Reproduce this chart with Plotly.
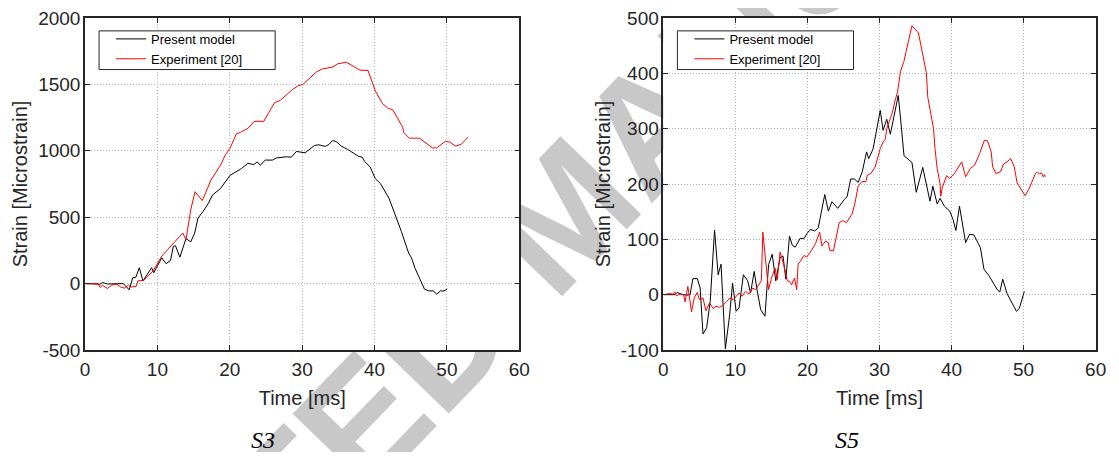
import plotly.graph_objects as go

# ---------------- data ----------------
s3_model_t = [0, 2.06, 2.4, 3.1, 5.3, 6.1, 6.6, 7.0, 7.5, 8.0, 9.2, 9.5, 10.6, 11.2, 11.8, 12.2, 12.5, 13.1,
              13.95, 14.6, 15.15, 15.6, 16.3, 17.05, 17.6, 18.7, 20.05, 21.6, 22.5, 23.3, 23.8, 24.2, 24.9,
              25.9, 26.4, 27.8, 28.5, 29.2, 30.4, 30.8, 31.7, 32.3, 33.2, 33.7, 34.2, 34.7, 35.4, 36.3, 37.8,
              38.3, 38.6, 39.4, 40.1, 40.8, 41.3, 42.0, 43.7, 44.7, 45.1, 45.6, 46.9, 47.5, 48.1, 48.6, 49.1,
              49.6, 50.05]
s3_model_v = [0, -5, 8, -3, 0, -47, 45, 45, 120, 20, 120, 82, 194, 150, 174, 281, 285, 199,
              339, 314, 381, 493, 543, 605, 667, 715, 816, 866, 906, 896, 916, 892, 930,
              930, 946, 955, 952, 995, 985, 1003, 1040, 1045, 1033, 1048, 1077, 1070, 1035, 1010, 958,
              952, 921, 878, 791, 754, 704, 642, 393, 231, 194, 115, -42, -55, -55, -80, -55,
              -55, -42]

s3_exp_t = [0, 1.8, 2.1, 2.4, 3.1, 3.7, 4.4, 4.9, 5.5, 6.0, 6.3, 7.05, 7.3, 8.15, 9.4, 10.6, 13.5, 13.95,
            14.6, 15.2, 16.2, 16.95, 17.4, 18.7, 19.4, 20.0, 20.9, 21.5, 22.5, 23.4, 24.7, 25.4, 26.2,
            27.0, 28.7, 29.4, 30.1, 32.0, 32.8, 34.2, 34.9, 36.1, 37.0, 38.0, 39.1, 40.1, 41.1, 41.9,
            42.5, 43.9, 44.0, 44.8, 46.2, 48.0, 48.6, 49.8, 50.4, 51.2, 52.0, 52.9]
s3_exp_v = [0, 0, -30, -12, -37, -10, -5, -25, -35, -10, -25, -22, 20, 25, 95, 207, 381, 331,
            555, 692, 625, 716, 780, 891, 970, 1015, 1127, 1140, 1169, 1222, 1222, 1289, 1363,
            1381, 1463, 1488, 1500, 1595, 1617, 1630, 1655, 1667, 1637, 1607, 1605, 1451, 1356, 1318,
            1310, 1177, 1140, 1095, 1095, 1022, 1022, 1072, 1065, 1035, 1050, 1102]

s5_model_t = [0, 1.6, 1.9, 2.5, 3.2, 3.7, 4.1, 4.7, 5.1, 5.5, 6.0, 6.5, 7.1, 7.6, 8.0, 8.6, 9.2, 9.6,
              10.1, 10.5, 11.1, 11.7, 12.1, 12.6, 13.0, 13.5, 14.1, 14.6, 15.1, 15.6, 16.2, 16.6, 17.0,
              17.5, 17.9, 18.3, 19.0, 19.5, 19.9, 20.4, 21.0, 21.5, 22.4, 22.9, 23.4, 24.2, 25.1, 25.5,
              26.0, 26.5, 27.05, 27.6, 28.2, 28.5, 29.1, 30.1, 30.5, 31.0, 31.5, 32.6, 32.9, 33.4, 34.5,
              35.1, 36.0, 37.0, 37.4, 38.0, 38.4, 39.0, 39.75, 40.2, 40.6, 41.1, 41.95, 42.5, 43.1, 44.0,
              44.5, 45.2, 46.4, 46.7, 47.1, 47.7, 49.0, 49.4, 50.1]
s5_model_v = [0, 0, 4, 1, -1, 0, 29, 29, 12, -71, -60, -12, 117, 36, 55, -98, -36, 21,
              -30, -24, 36, 25, 3, 42, 9, -27, -39, 54, 73, 25, 67, 70, 28,
              106, 89, 86, 102, 101, 110, 118, 115, 121, 181, 151, 168, 156, 172, 177,
              209, 209, 203, 222, 258, 246, 263, 333, 297, 317, 290, 360, 321, 251, 239,
              185, 230, 169, 196, 164, 174, 160, 151, 136, 116, 160, 94, 109, 108, 85,
              46, 34, 8, 5, 28, 2, -30, -25, 6]

s5_exp_t = [0, 0.5, 0.9, 1.3, 1.6, 1.8, 2.3, 2.8, 3.0, 3.4, 3.9, 4.3, 4.7, 5.0, 5.5, 5.9, 6.4, 6.9,
            7.3, 7.8, 8.3, 8.8, 9.2, 9.7, 10.1, 10.5, 10.9, 11.4, 11.9, 12.4, 12.8, 13.3, 13.6, 13.8,
            14.2, 14.6, 15.0, 15.5, 15.8, 16.2, 16.7, 17.2, 17.5, 17.8, 18.2, 18.5, 18.7, 19.0, 19.5,
            19.9, 20.4, 21.1, 21.7, 22.0, 22.5, 22.9, 23.1, 23.6, 24.4, 24.9, 25.4, 26.0, 26.2, 26.6,
            27.05, 27.6, 28.1, 28.3, 28.8, 29.4, 29.7, 30.1, 30.5, 30.8, 31.0, 31.4, 31.8, 32.1, 32.5,
            32.9, 33.4, 33.7, 34.2, 34.5, 35.4, 35.9, 36.5, 36.7, 37.1, 37.5, 37.7, 38.0, 38.4, 38.5,
            38.7, 39.3, 39.75, 40.4, 41.4, 41.95, 42.6, 43.2, 43.9, 44.55, 45.0, 45.5, 45.7, 46.15,
            46.8, 47.2, 47.7, 48.2, 48.7, 49.1, 50.2, 50.7, 51.2, 51.6, 51.9, 52.2, 52.5, 52.7, 52.9, 53.0]
s5_exp_v = [0, 1, 2, 1, 5, -2, 1, 0, -13, 15, -31, -5, 4, -9, -6, -29, -15, -25,
            -21, -23, -19, -12, -6, -9, -3, 3, -3, 6, 1, 12, 9, 18, 25, 113,
            65, 9, 30, 48, 27, 77, 54, 25, 24, 18, 30, 9, 55, 60, 71,
            68, 77, 92, 113, 88, 97, 94, 80, 79, 130, 134, 130, 142, 146, 166,
            197, 205, 204, 216, 219, 231, 246, 264, 276, 281, 300, 317, 330, 348, 366,
            403, 422, 440, 470, 486, 473, 443, 401, 357, 330, 300, 264, 228, 201, 178,
            193, 215, 210, 219, 240, 213, 228, 234, 255, 279, 278, 258, 231, 219,
            222, 236, 240, 246, 231, 202, 179, 190, 205, 218, 222, 218, 220, 213, 217, 213]

x_tickvals = [0, 10, 20, 30, 40, 50, 60]
x_ticktext = ["0", "10", "20", "30", "40", "50", "60"]
s3_y_tickvals = [-500, 0, 500, 1000, 1500, 2000]
s3_y_ticktext = ["-500", "0", "500", "1000", "1500", "2000"]
s5_y_tickvals = [-100, 0, 100, 200, 300, 400, 500]
s5_y_ticktext = ["-100", "0", "100", "200", "300", "400", "500"]

series_names = ["Present model", "Experiment [20]"]
panel_labels = ["S3", "S5"]
x_title = "Time [ms]"
y_title = "Strain [Microstrain]"
watermark = "ACCEPTED MANUSCRIPT"

# ---------------- geometry (target picture pixels -> figure fractions) ----------------
X0, XS = 13.0, 0.985          # observed horizontal mapping of figure px to picture px
OFF = 8                       # page body margin
W, H = 1119 - OFF, 460 - 2 * OFF
PLOT_TOP, PLOT_BOT = 15, 350  # picture pixels
MT = PLOT_TOP - OFF
MB = H - (PLOT_BOT - OFF)
PH = PLOT_BOT - PLOT_TOP


def fx(p):
    return ((p - X0) / XS) / W


def fy(p):
    return (PLOT_BOT - p) / PH


fig = go.Figure()
fig.add_trace(go.Scatter(x=s3_model_t, y=s3_model_v, mode="lines", name=series_names[0],
                         line=dict(color="black", width=1), xaxis="x", yaxis="y", legend="legend"))
fig.add_trace(go.Scatter(x=s3_exp_t, y=s3_exp_v, mode="lines", name=series_names[1],
                         line=dict(color="#ff0000", width=1), xaxis="x", yaxis="y", legend="legend"))
fig.add_trace(go.Scatter(x=s5_model_t, y=s5_model_v, mode="lines", name=series_names[0],
                         line=dict(color="black", width=1), xaxis="x2", yaxis="y2", legend="legend2"))
fig.add_trace(go.Scatter(x=s5_exp_t, y=s5_exp_v, mode="lines", name=series_names[1],
                         line=dict(color="#ff0000", width=1), xaxis="x2", yaxis="y2", legend="legend2"))

font_main = "Liberation Sans, Arial, sans-serif"
tick_font = dict(family=font_main, size=19, color="#262626")
title_font = dict(family=font_main, size=20, color="#262626")

axis_common = dict(
    showline=True, linecolor="#262626", linewidth=1.6, mirror="ticks",
    ticks="inside", ticklen=5, tickwidth=1.3, tickcolor="#262626",
    showgrid=True, gridcolor="#b4b4b4", griddash="1px,2px", gridwidth=1,
    zeroline=False, tickfont=tick_font, fixedrange=True, ticklabeloverflow="allow",
)

xdom1 = [fx(85), fx(519)]
xdom2 = [fx(663), fx(1095)]

fig.update_layout(
    width=W, height=H, autosize=False,
    margin=dict(l=0, r=0, t=MT, b=MB, pad=0),
    paper_bgcolor="white", plot_bgcolor="white",
    showlegend=True,
    xaxis=dict(axis_common, domain=xdom1, anchor="y", range=[0, 60],
               tickvals=x_tickvals, ticktext=x_ticktext, ticklabelstandoff=1,
               title=dict(text=x_title, font=title_font, standoff=12)),
    yaxis=dict(axis_common, domain=[0, 1], anchor="x", range=[-500, 2000],
               tickvals=s3_y_tickvals, ticktext=s3_y_ticktext, ticklabelstandoff=-1,
               title=dict(text=y_title, font=title_font, standoff=5)),
    xaxis2=dict(axis_common, domain=xdom2, anchor="y2", range=[0, 60],
                tickvals=x_tickvals, ticktext=x_ticktext, ticklabelstandoff=1,
                title=dict(text=x_title, font=title_font, standoff=12)),
    yaxis2=dict(axis_common, domain=[0, 1], anchor="x2", range=[-100, 500],
                tickvals=s5_y_tickvals, ticktext=s5_y_ticktext, ticklabelstandoff=-1,
                title=dict(text=y_title, font=title_font, standoff=5)),
    legend=dict(x=fx(111), y=fy(21), xanchor="left", yanchor="top",
                bgcolor="rgba(0,0,0,0)", borderwidth=0,
                font=dict(family=font_main, size=13, color="black"), tracegroupgap=0),
    legend2=dict(x=fx(689), y=fy(21), xanchor="left", yanchor="top",
                 bgcolor="rgba(0,0,0,0)", borderwidth=0,
                 font=dict(family=font_main, size=13, color="black"), tracegroupgap=0),
)

# watermark line (its label is centred on the line midpoint)
wm_cx, wm_cy, wm_half = 553, 201, 300
shapes = [
    dict(type="line", xref="paper", yref="paper", layer="below",
         x0=fx(wm_cx - wm_half), y0=fy(wm_cy + wm_half * 1.035),
         x1=fx(wm_cx + wm_half), y1=fy(wm_cy - wm_half * 1.035),
         line=dict(color="rgba(0,0,0,0)", width=0),
         label=dict(text=watermark, textposition="middle", yanchor="middle", xanchor="center",
                    textangle=-46,
                    font=dict(family=font_main, size=163, color="#c8c8c8", weight="bold"))),
    # opaque plot-area backgrounds that hide the watermark inside the axes
    dict(type="rect", xref="paper", yref="paper", layer="below",
         x0=xdom1[0], x1=xdom1[1], y0=0, y1=1, fillcolor="white", line=dict(width=0)),
    dict(type="rect", xref="paper", yref="paper", layer="below",
         x0=xdom2[0], x1=xdom2[1], y0=0, y1=1, fillcolor="white", line=dict(width=0)),
    # legend boxes
    dict(type="rect", xref="paper", yref="paper", layer="above",
         x0=fx(99), x1=fx(275), y0=fy(67), y1=fy(28),
         fillcolor="white", line=dict(color="#262626", width=1)),
    dict(type="rect", xref="paper", yref="paper", layer="above",
         x0=fx(677), x1=fx(853), y0=fy(67), y1=fy(28),
         fillcolor="white", line=dict(color="#262626", width=1)),
]
fig.update_layout(shapes=shapes)

for label, cx in zip(panel_labels, [263, 846]):
    fig.add_annotation(text="<i>" + label + "</i>", xref="paper", yref="paper",
                       x=fx(cx), y=fy(441), xanchor="center", yanchor="middle",
                       showarrow=False,
                       font=dict(family="Liberation Serif, Times New Roman, serif", size=24, color="black"))

fig.write_html("out.html")
